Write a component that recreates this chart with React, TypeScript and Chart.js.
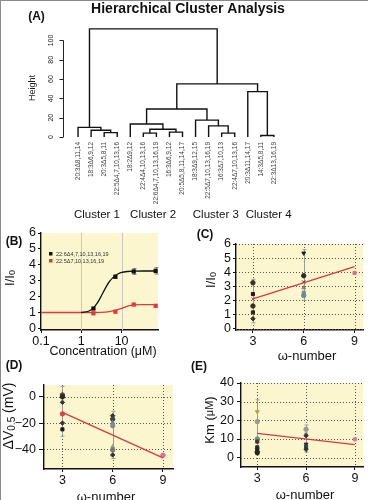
import React, { useEffect, useRef } from 'react';
import { Chart, registerables } from 'chart.js';

Chart.register(...registerables);

const SANS = '"Liberation Sans", Arial, Helvetica, sans-serif';
Chart.defaults.font.family = SANS;

type Box = [number, number, number, number];

// ---------------- Panel A: dendrogram ----------------
const leafLabels = [
  '20:3Δ8,11,14', '18:3Δ6,9,12', '20:3Δ5,8,11', '22:5Δ4,7,10,13,16',
  '18:2Δ9,12', '22:4Δ4,10,13,16', '22:6Δ4,7,10,13,16,19', '16:3Δ6,9,12', '20:5Δ5,8,11,14,17',
  '18:3Δ9,12,15', '22:5Δ7,10,13,16,19', '16:3Δ7,10,13', '22:4Δ7,10,13,16',
  '20:3Δ11,14,17', '14:3Δ5,8,11', '22:3Δ13,16,19',
];
// R hclust style merges: negative = leaf (1-based), positive = earlier merge row (1-based)
const mergeA = [-3, -2, -1, -6, -8, 4, -5, -12, -11, -10, 7, -15, -14, 11, 3];
const mergeB = [-4, 1, 2, -7, -9, 5, 6, -13, 8, 9, 10, -16, 12, 13, 14];
const mergeHeight = [4.5, 7, 10, 4, 5, 8, 13.5, 4, 11.5, 17.5, 29, 1.5, 47, 55, 112];
const heightTicks = [0, 20, 40, 60, 80, 100];
const clusterNames = ['Cluster 1', 'Cluster 2', 'Cluster 3', 'Cluster 4'];
const clusterLabelPos = [1.45, 5.75, 10.55, 14.6];

// ---------------- Panel B: dose response ----------------
const concX = [2, 7, 20, 70];
const blackY = [1.25, 3.25, 3.58, 3.62];
const redY = [0.95, 1.05, 1.5, 1.42];
const blackFitX = [1, 1.5, 2, 2.5, 3, 4, 5, 6, 7, 8, 10, 14, 20, 35, 70];
const blackFitY = [1.0, 1.08, 1.28, 1.6, 1.95, 2.55, 2.95, 3.18, 3.32, 3.42, 3.52, 3.58, 3.6, 3.61, 3.61];
const redFitX = [0.1, 1, 2, 3, 5, 7, 10, 13, 17, 20, 30, 70];
const redFitY = [1, 1, 1, 1.01, 1.06, 1.13, 1.26, 1.37, 1.45, 1.48, 1.49, 1.49];
const blackErrX = [7, 20, 70];
const blackErrLo = [3.15, 3.4, 3.42];
const blackErrHi = [3.35, 3.76, 3.82];
const legendNames = ['22:6Δ4,7,10,13,16,19', '22:5Δ7,10,13,16,19'];
const concTicks = [0.1, 1, 10];
const ratioTicksB = [0, 1, 2, 3, 4, 5, 6];

// ---------------- Panel C: I/I0 vs omega ----------------
const omegaTicks = [3, 6, 9];
const cX = [3, 3, 3, 3, 3, 3, 6, 6, 6, 6, 6, 6, 9];
const cY = [3.25, 2.45, 2.1, 1.6, 1.15, 0.7, 5.35, 3.75, 3.3, 2.9, 2.55, 2.35, 3.95];
const cFitX = [3, 9];
const cFitY = [2.1, 4.4];
const cErrX = [3, 6];
const cErrLo = [0.4, 2.0];
const cErrHi = [3.5, 5.6];
const ratioTicksC = [0, 1, 2, 3, 4, 5, 6];

// ---------------- Panel D: dV0.5 vs omega ----------------
const dX = [3, 3, 3, 3, 3, 3, 6, 6, 6, 6, 6, 6, 6, 9];
const dY = [1.4, 0, -4.2, -13, -20, -24.8, -14.4, -17, -19.7, -22, -38, -40.5, -44.3, -44.5];
const dFitX = [3, 9];
const dFitY = [-11.8, -46.5];
const dErrX = [3, 6];
const dErrLo = [-30, -47];
const dErrHi = [8, -11];
const dvTicks = [0, -20, -40];

// ---------------- Panel E: Km vs omega ----------------
const eX = [3, 3, 3, 3, 3, 3, 3, 3, 6, 6, 6, 6, 6, 6, 9];
const eY = [24.6, 19.3, 10, 8.6, 5.6, 4.5, 3.2, 2.7, 15.2, 13, 11.8, 7.2, 5.9, 4.5, 9.8];
const eFitX = [3, 9];
const eFitY = [13, 7];
const eErrX = [3, 6];
const eErrLo = [1.5, 3];
const eErrHi = [31, 17.5];
const kmTicks = [0, 10, 20, 30, 40];

// ---------------- styles ----------------
const RED = '#d83a3c';
const YELLOW = '#fcf6cf';
const cStyles = ['circle', 'rect', 'crossRot', 'circle', 'rect', 'rectRot', 'triangle', 'circle', 'crossRot', 'triangle', 'rect', 'circle', 'rect'];
const cRots = [0, 0, 0, 0, 0, 0, 180, 0, 0, 0, 0, 0, 0];
const cColors = ['#3b2f22', '#1c1c1c', '#e0405a', '#3b2f22', '#262626', '#4a2a20', '#1c1c1c', '#2e2a20', '#1a1a1a', '#85857a', '#6f9a88', '#5f8f9a', '#d9708c'];
const dStyles = ['circle', 'circle', 'rectRot', 'circle', 'rectRot', 'rect', 'rectRot', 'circle', 'triangle', 'circle', 'triangle', 'circle', 'rectRot', 'circle'];
const dRots = [0, 0, 0, 0, 0, 0, 0, 0, 0, 0, 0, 0, 0, 0];
const dColors = ['#6a3a22', '#2a2a2a', '#333333', '#e0404a', '#333333', '#1c1c1c', '#333333', '#444444', '#5a8a9a', '#8a8a8a', '#999990', '#777777', '#333333', '#d670a0'];
const eStyles = ['triangle', 'circle', 'circle', 'rect', 'rect', 'rect', 'rectRot', 'circle', 'circle', 'triangle', 'rectRot', 'triangle', 'rect', 'rectRot', 'rect'];
const eRots = [180, 0, 0, 0, 0, 0, 0, 0, 0, 0, 0, 180, 0, 0, 0];
const eColors = ['#b5a24a', '#9a9a8a', '#4f9a8f', '#5a2e2e', '#333333', '#222222', '#333333', '#222222', '#999999', '#aaaaaa', '#333333', '#222222', '#334455', '#333333', '#d57aa0'];

// ---------------- helpers ----------------
function setTicks(vals: number[]) {
  return (s: any) => { s.ticks = vals.map((v) => ({ value: v })); };
}
function fmtNum(v: number) {
  return v < 0 ? '\u2212' + Math.abs(v) : String(v);
}
function fitArea(box: Box, plot: Box) {
  const [cx, cy, cw, ch] = box;
  const [L, T, R, B] = plot;
  return {
    padding: { left: 0, top: T - cy, right: cx + cw - R, bottom: 0 },
    yFit: (s: any) => { s.width = L - cx; },
    xFit: (s: any) => { s.height = cy + ch - B; },
  };
}
function drawText(ctx: CanvasRenderingContext2D, s: string, x: number, y: number, size: number, o: any = {}) {
  ctx.save();
  ctx.font = `${o.bold ? 'bold ' : ''}${size}px ${SANS}`;
  ctx.fillStyle = o.color || '#111';
  ctx.textAlign = o.align || 'center';
  ctx.textBaseline = o.baseline || 'middle';
  ctx.translate(x, y);
  if (o.rot) ctx.rotate(o.rot);
  ctx.fillText(s, 0, 0);
  ctx.restore();
}
function drawRich(ctx: CanvasRenderingContext2D, parts: { t: string; size: number; dy?: number }[], x: number, y: number, rot = 0) {
  ctx.save();
  ctx.translate(x, y);
  ctx.rotate(rot);
  ctx.fillStyle = '#111';
  ctx.textBaseline = 'middle';
  ctx.textAlign = 'left';
  let total = 0;
  for (const p of parts) { ctx.font = `${p.size}px ${SANS}`; total += ctx.measureText(p.t).width; }
  let px = -total / 2;
  for (const p of parts) {
    ctx.font = `${p.size}px ${SANS}`;
    ctx.fillText(p.t, px, p.dy || 0);
    px += ctx.measureText(p.t).width;
  }
  ctx.restore();
}
function fillBg(chart: any) {
  const { ctx, chartArea: a } = chart;
  ctx.save();
  ctx.fillStyle = YELLOW;
  ctx.fillRect(a.left, a.top, a.right - a.left, a.bottom - a.top);
  ctx.restore();
}
function gridLines(chart: any, xs: number[], ys: number[], color: string, dash: number[]) {
  const { ctx, chartArea: a, scales } = chart;
  ctx.save();
  ctx.strokeStyle = color;
  ctx.lineWidth = 1;
  ctx.setLineDash(dash);
  for (const v of xs) {
    const p = Math.round(scales.x.getPixelForValue(v)) + 0.5;
    ctx.beginPath(); ctx.moveTo(p, a.top); ctx.lineTo(p, a.bottom); ctx.stroke();
  }
  for (const v of ys) {
    const p = Math.round(scales.y.getPixelForValue(v)) + 0.5;
    ctx.beginPath(); ctx.moveTo(a.left, p); ctx.lineTo(a.right, p); ctx.stroke();
  }
  ctx.restore();
}
function errBars(chart: any, xs: number[], lo: number[], hi: number[], color: string) {
  const { ctx, scales } = chart;
  ctx.save();
  ctx.strokeStyle = color;
  ctx.lineWidth = 1;
  xs.forEach((x, i) => {
    const px = Math.round(scales.x.getPixelForValue(x)) + 0.5;
    const y1 = scales.y.getPixelForValue(lo[i]);
    const y2 = scales.y.getPixelForValue(hi[i]);
    ctx.beginPath();
    ctx.moveTo(px, y1); ctx.lineTo(px, y2);
    ctx.moveTo(px - 2, y1); ctx.lineTo(px + 2, y1);
    ctx.moveTo(px - 2, y2); ctx.lineTo(px + 2, y2);
    ctx.stroke();
  });
  ctx.restore();
}
function axis(type: string, min: number, max: number, vals: number[], fit: any, tickLen: number, pad: number, size: number) {
  return {
    type, min, max,
    afterBuildTicks: setTicks(vals),
    afterFit: fit,
    ticks: { autoSkip: false, maxRotation: 0, minRotation: 0, padding: pad, color: '#111', font: { family: SANS, size }, callback: (v: any) => fmtNum(Number(v)) },
    grid: { drawOnChartArea: false, drawTicks: true, tickLength: tickLen, color: '#111', lineWidth: 1 },
    border: { display: true, color: '#111', width: 1.4 },
  };
}
const baseOpts = {
  responsive: false,
  maintainAspectRatio: false,
  animation: false,
  devicePixelRatio: 1,
  events: [] as any[],
};

// ---------------- configs ----------------
const dendroBox: Box = [0, 0, 368, 228];
function dendroConfig() {
  const centers: number[] = [];
  const segs = mergeHeight.map((h, i) => {
    const a = mergeA[i], b = mergeB[i];
    const xa = a < 0 ? -a - 1 : centers[a - 1];
    const xb = b < 0 ? -b - 1 : centers[b - 1];
    const ha = a < 0 ? 0 : mergeHeight[a - 1];
    const hb = b < 0 ? 0 : mergeHeight[b - 1];
    centers.push((xa + xb) / 2);
    return [{ x: xa, y: ha }, { x: xa, y: h }, { x: xb, y: h }, { x: xb, y: hb }];
  });
  return {
    type: 'scatter',
    data: {
      datasets: segs.map((d) => ({ data: d, showLine: true, borderColor: '#111', borderWidth: 1.4, pointRadius: 0, tension: 0, clip: false })),
    },
    options: {
      ...baseOpts,
      layout: { padding: { left: 65, top: 26, right: 68, bottom: 0 } },
      plugins: { legend: { display: false }, tooltip: { enabled: false } },
      scales: {
        x: {
          type: 'linear', min: -1, max: 17,
          afterBuildTicks: (s: any) => { s.ticks = leafLabels.map((_, i) => ({ value: i })); },
          afterFit: (s: any) => { s.height = 228 - 137; },
          ticks: { autoSkip: false, minRotation: 90, maxRotation: 90, padding: 5, color: '#444', font: { family: SANS, size: 6.5 }, callback: (v: any) => leafLabels[Number(v)] },
          grid: { display: false, drawTicks: false },
          border: { display: false },
        },
        y: { type: 'linear', min: 0, max: 115, display: false },
      },
    },
    plugins: [{
      id: 'dendroDeco',
      afterDraw(chart: any) {
        const { ctx, scales } = chart;
        const ys = scales.y;
        const ax = 63.5;
        ctx.save();
        ctx.strokeStyle = '#222';
        ctx.lineWidth = 1;
        ctx.beginPath();
        ctx.moveTo(ax, ys.getPixelForValue(heightTicks[0]));
        ctx.lineTo(ax, ys.getPixelForValue(heightTicks[heightTicks.length - 1]));
        for (const v of heightTicks) {
          const p = Math.round(ys.getPixelForValue(v)) + 0.5;
          ctx.moveTo(ax, p); ctx.lineTo(ax - 4, p);
        }
        ctx.stroke();
        ctx.restore();
        for (const v of heightTicks) drawText(ctx, String(v), 51, ys.getPixelForValue(v), 7, { rot: -Math.PI / 2, color: '#222' });
        drawText(ctx, 'Height', 33, 88, 9, { rot: -Math.PI / 2, color: '#222' });
        drawText(ctx, 'Hierarchical Cluster Analysis', 188, 9, 14, { bold: true });
        drawText(ctx, '(A)', 36.5, 17, 12, { bold: true });
        clusterNames.forEach((n, i) => drawText(ctx, n, scales.x.getPixelForValue(clusterLabelPos[i]), 215, 11.5));
      },
    }],
  };
}

const bBox: Box = [0, 222, 184, 140];
const bPlot: Box = [41, 233, 158, 330];
function bConfig() {
  const fa = fitArea(bBox, bPlot);
  return {
    type: 'scatter',
    data: {
      datasets: [
        { data: blackFitX.map((x, i) => ({ x, y: blackFitY[i] })), showLine: true, borderColor: '#111', borderWidth: 1.3, pointRadius: 0, cubicInterpolationMode: 'monotone' },
        { data: redFitX.map((x, i) => ({ x, y: redFitY[i] })), showLine: true, borderColor: '#e0383c', borderWidth: 1.3, pointRadius: 0, cubicInterpolationMode: 'monotone' },
        { data: concX.map((x, i) => ({ x, y: blackY[i] })), pointStyle: 'rect', pointRadius: 3, backgroundColor: '#111', borderColor: '#111', borderWidth: 0 },
        { data: concX.map((x, i) => ({ x, y: redY[i] })), pointStyle: 'rect', pointRadius: 3, backgroundColor: '#e0383c', borderColor: '#e0383c', borderWidth: 0 },
      ],
    },
    options: {
      ...baseOpts,
      layout: { padding: fa.padding },
      plugins: { legend: { display: false }, tooltip: { enabled: false } },
      scales: {
        x: axis('logarithmic', 0.1, 80, concTicks, fa.xFit, 3, 1, 12.5),
        y: axis('linear', -0.1, 6, ratioTicksB, fa.yFit, 3, 2, 12.5),
      },
    },
    plugins: [{
      id: 'bDeco',
      beforeDraw: fillBg,
      beforeDatasetsDraw(chart: any) {
        gridLines(chart, [1, 10], [], '#c9c9c0', []);
        errBars(chart, blackErrX, blackErrLo, blackErrHi, '#777');
      },
      afterDraw(chart: any) {
        const { ctx } = chart;
        ctx.save();
        ctx.translate(-bBox[0], -bBox[1]);
        drawText(ctx, '(B)', 14, 242, 12, { bold: true });
        drawRich(ctx, [{ t: 'I/I', size: 13 }, { t: '0', size: 9, dy: 3 }], 10, 278, -Math.PI / 2);
        drawText(ctx, 'Concentration (μM)', 103, 352, 12.5);
        const cols = ['#111', '#e0383c'];
        legendNames.forEach((n, i) => {
          ctx.fillStyle = cols[i];
          ctx.fillRect(49, 252 + i * 7, 3.5, 3.5);
          drawText(ctx, n, 56, 254 + i * 7, 5.5, { align: 'left', color: '#333' });
        });
        ctx.restore();
      },
    }],
  };
}

function omegaConfig(p: any) {
  const fa = fitArea(p.box, p.plot);
  return {
    type: 'scatter',
    data: {
      datasets: [
        { data: p.fitX.map((x: number, i: number) => ({ x, y: p.fitY[i] })), showLine: true, borderColor: RED, borderWidth: 1.3, pointRadius: 0 },
        { data: p.xs.map((x: number, i: number) => ({ x, y: p.ys[i] })), pointStyle: p.styles, rotation: p.rots, backgroundColor: p.colors, borderColor: p.colors, borderWidth: 1, pointRadius: 2.2 },
      ],
    },
    options: {
      ...baseOpts,
      layout: { padding: fa.padding },
      plugins: { legend: { display: false }, tooltip: { enabled: false } },
      scales: {
        x: axis('linear', p.xMin, p.xMax, omegaTicks, fa.xFit, 3, 1, 12.5),
        y: axis('linear', p.yMin, p.yMax, p.yTicks, fa.yFit, p.yTickLen, p.yPad, 12.5),
      },
    },
    plugins: [{
      id: 'omegaDeco',
      beforeDraw: fillBg,
      beforeDatasetsDraw(chart: any) {
        gridLines(chart, omegaTicks, p.yTicks, '#555', [1, 2]);
        errBars(chart, p.errX, p.errLo, p.errHi, '#9a9a9a');
      },
      afterDraw(chart: any) {
        const { ctx } = chart;
        ctx.save();
        ctx.translate(-p.box[0], -p.box[1]);
        drawText(ctx, p.label, p.labelPos[0], p.labelPos[1], 12, { bold: true });
        drawRich(ctx, p.yTitle, p.yTitlePos[0], p.yTitlePos[1], -Math.PI / 2);
        drawText(ctx, 'ω-number', p.xTitlePos[0], p.xTitlePos[1], 13);
        ctx.restore();
      },
    }],
  };
}

const cBox: Box = [184, 226, 184, 136];
const dBox: Box = [0, 358, 184, 142];
const eBox: Box = [184, 358, 184, 142];

const cConfig = () => omegaConfig({
  box: cBox, plot: [236, 244, 363, 330], xMin: 2, xMax: 9.5, yMin: -0.1, yMax: 6, yTicks: ratioTicksC,
  xs: cX, ys: cY, styles: cStyles, rots: cRots, colors: cColors, fitX: cFitX, fitY: cFitY,
  errX: cErrX, errLo: cErrLo, errHi: cErrHi, yTickLen: 3, yPad: 2,
  label: '(C)', labelPos: [205, 235], yTitle: [{ t: 'I/I', size: 13 }, { t: '0', size: 9, dy: 3 }], yTitlePos: [211, 280], xTitlePos: [307, 356],
});
const dConfig = () => omegaConfig({
  box: dBox, plot: [44, 385, 173, 469], xMin: 1.9, xMax: 9.6, yMin: -55, yMax: 9, yTicks: dvTicks,
  xs: dX, ys: dY, styles: dStyles, rots: dRots, colors: dColors, fitX: dFitX, fitY: dFitY,
  errX: dErrX, errLo: dErrLo, errHi: dErrHi, yTickLen: 5, yPad: 3,
  label: '(D)', labelPos: [14, 366], yTitle: [{ t: 'ΔV', size: 14 }, { t: '0.5', size: 10, dy: 3 }, { t: ' (mV)', size: 14 }], yTitlePos: [9, 416], xTitlePos: [106, 497],
});
const eConfig = () => omegaConfig({
  box: eBox, plot: [241, 383, 367, 467], xMin: 2, xMax: 9.5, yMin: -5, yMax: 40, yTicks: kmTicks,
  xs: eX, ys: eY, styles: eStyles, rots: eRots, colors: eColors, fitX: eFitX, fitY: eFitY,
  errX: eErrX, errLo: eErrLo, errHi: eErrHi, yTickLen: 4, yPad: 3,
  label: '(E)', labelPos: [199, 367], yTitle: [{ t: 'Km (', size: 13 }, { t: 'μM', size: 11 }, { t: ')', size: 13 }], yTitlePos: [210, 420], xTitlePos: [305, 495],
});

function ChartCanvas({ box, make }: { box: Box; make: () => any }) {
  const ref = useRef<HTMLCanvasElement>(null);
  useEffect(() => {
    const chart = new Chart(ref.current as HTMLCanvasElement, make());
    return () => chart.destroy();
  }, []);
  return (
    <canvas
      ref={ref}
      width={box[2]}
      height={box[3]}
      style={{ position: 'absolute', left: box[0], top: box[1], width: box[2], height: box[3] }}
    />
  );
}

export default function App() {
  return (
    <div style={{ position: 'absolute', left: 0, top: 0, width: 368, height: 500, overflow: 'hidden', background: '#fff' }}>
      <ChartCanvas box={dendroBox} make={dendroConfig} />
      <ChartCanvas box={bBox} make={bConfig} />
      <ChartCanvas box={cBox} make={cConfig} />
      <ChartCanvas box={dBox} make={dConfig} />
      <ChartCanvas box={eBox} make={eConfig} />
      <div style={{ position: 'absolute', left: 0, top: 0, width: 368, height: 500, boxSizing: 'border-box', borderTop: '1px solid #8a8a8a', borderLeft: '1px solid #8a8a8a', pointerEvents: 'none' }} />
    </div>
  );
}
